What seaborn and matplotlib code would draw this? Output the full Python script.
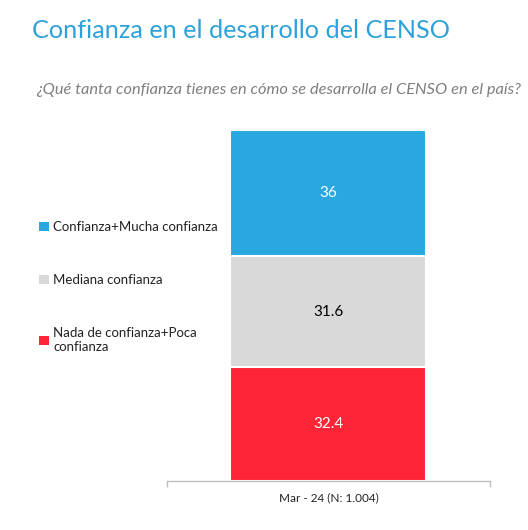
import matplotlib
matplotlib.use("Agg")
import matplotlib.pyplot as plt
import seaborn as sns
import pandas as pd
import numpy as np
from matplotlib.patches import Patch

# data
periodo = ["Mar - 24 (N: 1.004)"]
categorias = ["Confianza+Mucha confianza", "Mediana confianza",
              "Nada de confianza+Poca\nconfianza"]
valores = [36, 31.6, 32.4]   # top -> bottom
colores = ["#29A8E0", "#D9D9D9", "#FF2537"]
color_texto = ["white", "black", "white"]

sns.set_theme(style="white")
plt.rcParams["font.family"] = ["Lato", "DejaVu Sans"]

fig = plt.figure(figsize=(5.28, 5.30), dpi=100)
ax = fig.add_axes([0.316, 0.0925, 0.612, 0.6625])

# stacked bar: draw cumulative totals from largest to smallest
bottom_up = valores[::-1]          # red, gray, blue
cum = np.cumsum(bottom_up)
cols_bu = colores[::-1]
for total, col in zip(cum[::-1], cols_bu[::-1]):
    df = pd.DataFrame({"periodo": periodo, "valor": [total]})
    sns.barplot(data=df, x="periodo", y="valor", color=col, width=0.607,
                edgecolor="white", linewidth=1.5, saturation=1, ax=ax)

# data labels
starts = np.concatenate([[0], cum[:-1]])
for v, s, tc in zip(bottom_up, starts, color_texto[::-1]):
    ax.text(0, s + v / 2, f"{v:g}", ha="center", va="center",
            fontsize=11, color=tc)

ax.set_xlim(-0.5, 0.5)
ax.set_ylim(0, 100)
ax.set_xlabel("")
ax.set_ylabel("")
ax.set_yticks([])
for side in ["top", "right", "left"]:
    ax.spines[side].set_visible(False)
ax.spines["bottom"].set_color("#BFBFBF")
ax.spines["bottom"].set_linewidth(1)
ax.tick_params(axis="x", which="major", length=0, pad=8, labelsize=8.5,
               labelcolor="#222222")
ax.set_xticks([-0.5, 0.5], minor=True)
ax.tick_params(axis="x", which="minor", length=4, color="#BFBFBF",
               direction="out", bottom=True)

# legend on the left
handles = [Patch(facecolor=c, edgecolor="none") for c in colores]
fig.legend(handles, categorias, loc="upper left",
           bbox_to_anchor=(0.052, 0.605), frameon=False, fontsize=9.5,
           handlelength=0.7, handleheight=0.7, handletextpad=0.35,
           labelspacing=3.1, labelcolor="#222222")

fig.text(0.060, 0.942, "Confianza en el desarrollo del CENSO",
         fontsize=18.2, color="#2EA1DA", ha="left", va="center")
fig.text(0.986, 0.831,
         "¿Qué tanta confianza tienes en cómo se desarrolla el CENSO en el país?",
         fontsize=11.8, color="#7F7F7F", style="italic", ha="right", va="center")

fig.savefig("out.png", dpi=100, facecolor="white")
